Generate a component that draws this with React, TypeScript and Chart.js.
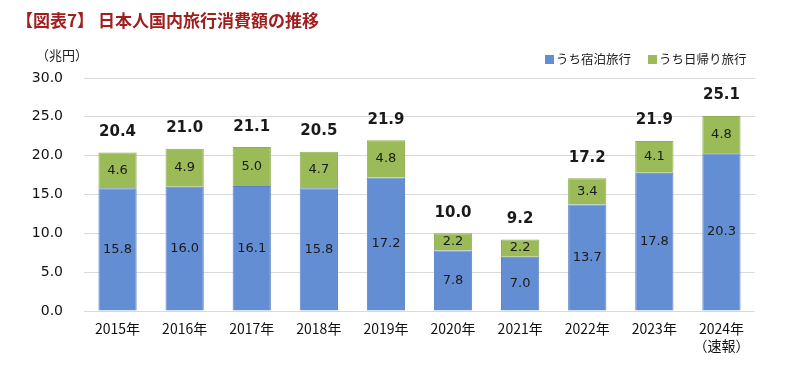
import React, { useEffect, useRef } from "react";
import { Chart, registerables } from "chart.js";

Chart.register(...registerables);

const categories: (string | string[])[] = ["2015年", "2016年", "2017年", "2018年", "2019年", "2020年", "2021年", "2022年", "2023年", ["2024年", "（速報）"]];
const stayValues = [15.8, 16.0, 16.1, 15.8, 17.2, 7.8, 7.0, 13.7, 17.8, 20.3];
const dayTripValues = [4.6, 4.9, 5.0, 4.7, 4.8, 2.2, 2.2, 3.4, 4.1, 4.8];
const totalLabels = [20.4, 21.0, 21.1, 20.5, 21.9, 10.0, 9.2, 17.2, 21.9, 25.1];
const seriesNames = ["うち宿泊旅行", "うち日帰り旅行"];
const titleText = "【図表7】 日本人国内旅行消費額の推移";
const unitText = "（兆円）";

const FONT = "'DejaVu Sans', 'Noto Sans CJK JP', sans-serif";
const CJK = "'Noto Sans CJK JP', 'DejaVu Sans', sans-serif";
const BLUE = "#648ED3";
const GREEN = "#9BBB59";

const decorPlugin = {
  id: "decor",
  afterDatasetsDraw(chart: any) {
    const ctx = chart.ctx as CanvasRenderingContext2D;
    const yScale = chart.scales.y;
    ctx.save();
    // title
    ctx.font = `bold 17px ${CJK}`;
    ctx.fillStyle = "#A01E1E";
    ctx.textAlign = "left";
    ctx.textBaseline = "middle";
    ctx.fillText(titleText, 16, 21);
    // unit
    ctx.font = `13px ${CJK}`;
    ctx.fillStyle = "#222";
    ctx.fillText(unitText, 36, 55);
    // legend
    const items = [
      { label: seriesNames[0], color: BLUE, x: 545 },
      { label: seriesNames[1], color: GREEN, x: 648 },
    ];
    ctx.font = `12.5px ${CJK}`;
    items.forEach((it) => {
      ctx.fillStyle = it.color;
      ctx.fillRect(it.x, 55, 9, 9);
      ctx.fillStyle = "#222";
      ctx.fillText(it.label, it.x + 11, 59.5);
    });
    // segment labels
    ctx.textAlign = "center";
    ctx.textBaseline = "middle";
    ctx.font = `13px ${FONT}`;
    ctx.fillStyle = "#1a1a1a";
    chart.data.datasets.forEach((ds: any, di: number) => {
      const meta = chart.getDatasetMeta(di);
      meta.data.forEach((bar: any, i: number) => {
        const y = (bar.y + bar.base) / 2;
        ctx.fillText(Number(ds.data[i]).toFixed(1), bar.x, y);
      });
    });
    // totals
    ctx.font = `bold 15px ${FONT}`;
    ctx.textBaseline = "bottom";
    const topMeta = chart.getDatasetMeta(1);
    topMeta.data.forEach((bar: any, i: number) => {
      const yTop = yScale.getPixelForValue(stayValues[i] + dayTripValues[i]);
      ctx.fillText(totalLabels[i].toFixed(1), bar.x, yTop - 13);
    });
    ctx.restore();
  },
};

export default function App() {
  const ref = useRef<HTMLCanvasElement>(null);
  useEffect(() => {
    if (!ref.current) return;
    const chart = new Chart(ref.current, {
      type: "bar",
      data: {
        labels: categories,
        datasets: [
          {
            label: seriesNames[0],
            data: stayValues,
            backgroundColor: BLUE,
            borderColor: "#5A82C4",
            borderWidth: 1,
            categoryPercentage: 0.57,
            barPercentage: 1,
          },
          {
            label: seriesNames[1],
            data: dayTripValues,
            backgroundColor: GREEN,
            borderColor: "#8EAD50",
            borderWidth: 1,
            categoryPercentage: 0.57,
            barPercentage: 1,
          },
        ],
      },
      options: {
        animation: false,
        responsive: false,
        maintainAspectRatio: false,
        layout: { padding: { top: 78, right: 45, bottom: 0, left: 0 } },
        plugins: {
          legend: { display: false },
          title: { display: false },
          tooltip: { enabled: false },
        },
        scales: {
          x: {
            stacked: true,
            grid: { display: false, drawTicks: false },
            border: { display: false },
            ticks: {
              color: "#111",
              font: { size: 14, family: CJK },
              padding: 9,
              maxRotation: 0,
              autoSkip: false,
            },
            afterFit(scale: any) {
              scale.height = 59;
            },
          },
          y: {
            stacked: true,
            min: 0,
            max: 30,
            grid: { color: "#D9D9D9", drawTicks: false, lineWidth: 1 },
            border: { display: false },
            ticks: {
              stepSize: 5,
              color: "#111",
              font: { size: 14, family: FONT },
              padding: 21,
              callback: (v: any) => Number(v).toFixed(1),
            },
            afterFit(scale: any) {
              scale.width = 84;
            },
          },
        },
      },
      plugins: [decorPlugin],
    });
    return () => chart.destroy();
  }, []);
  return (
    <div style={{ position: "fixed", left: 0, top: 0, width: 800, height: 370, background: "#fff" }}>
      <canvas ref={ref} width={800} height={370} style={{ width: 800, height: 370 }} />
    </div>
  );
}
